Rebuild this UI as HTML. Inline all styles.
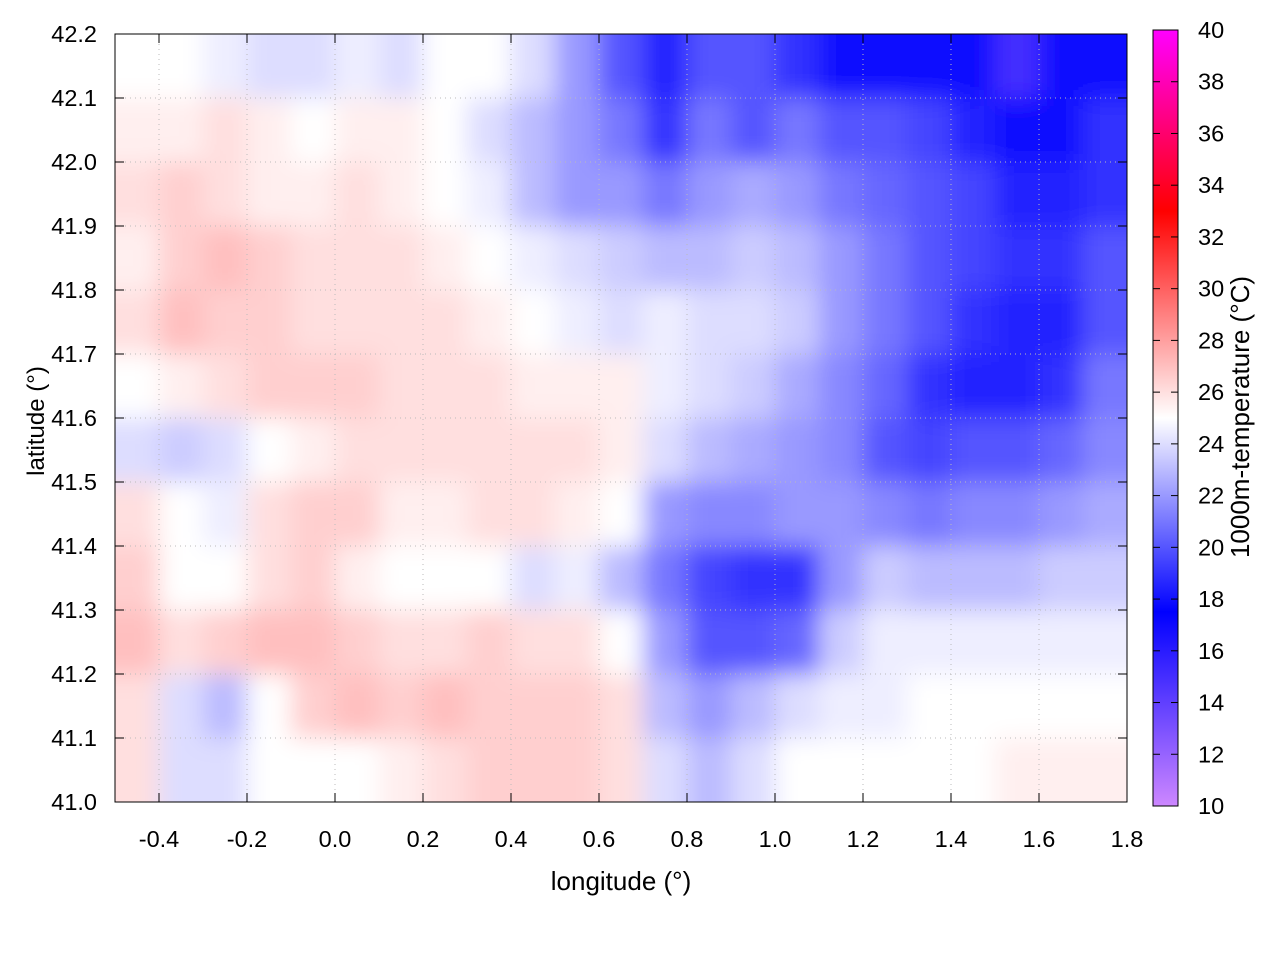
<!DOCTYPE html>
<html><head><meta charset="utf-8"><style>
body{margin:0;background:#fff;}
svg text{font-family:"Liberation Sans",sans-serif;font-size:23.5px;fill:#000;}
svg text.ttl{font-size:26px;}
svg text.ttl2{font-size:24px;}
</style></head><body>
<svg id="chart" width="1280" height="960" viewBox="0 0 1280 960">
<defs>
<clipPath id="pc"><rect x="115" y="34" width="1012" height="768"/></clipPath>
<filter id="bl" x="-5%" y="-5%" width="110%" height="110%"><feGaussianBlur stdDeviation="12"/></filter>
<linearGradient id="cbg" x1="0" y1="1" x2="0" y2="0"></linearGradient>
</defs>
<g id="heat" clip-path="url(#pc)"><g id="cells" filter="url(#bl)"></g></g>
<g id="grid"></g>
<rect x="115" y="34" width="1012" height="768" fill="none" stroke="#000" stroke-width="1"/>
<g id="axes"></g>
<rect x="1153" y="30" width="25" height="776" fill="url(#cbg)" stroke="#000"/>
<g id="cbax"></g>
<text class="ttl" x="621" y="890" text-anchor="middle">longitude (°)</text>
<text class="ttl2" transform="translate(44,421) rotate(-90)" text-anchor="middle">latitude (°)</text>
<text class="ttl" transform="translate(1249,417) rotate(-90)" text-anchor="middle">1000m-temperature (°C)</text>
</svg>
<script>
const lonStart=-0.5, lonStep=0.1, latTop=42.2, latStep=0.1;
const temps=[
[25,25,24.5,24,24,24.5,24,25,25,24,22,20,18.5,20,20,19,18,18,18,17,15,17,18],
[25.5,25.5,26,25.5,25,25.5,25.5,25,24,23,22,21,19,21,20,21,20,20,19.5,18.5,18,18,19],
[26,26.5,26,25.5,25.5,26,25.5,25,24.5,23,22,22,21,22,22.5,22,21,20.5,20,19.5,18.5,18.5,19],
[25.5,26.5,27,26.5,26,26,26,25.5,25,24.5,24,23.5,23,23,23.5,23,22,21,20,19.5,19,19,20],
[26,27,26.5,26.5,26,26,26,26,25.5,25,24.5,24,24.5,24,24,23.5,22,21,20,19,18.5,18.5,20],
[25,25.5,26,26.5,26.5,26.5,26,26,26,25.5,25.5,25.5,24.5,24,23.5,22.5,21.5,20.5,19,18.5,18.5,19,21],
[24,23.5,24,25,25.5,26,26,26,26,26,26,25.5,24,23,22.5,22,21.5,20,19.5,20,20,20.5,21.5],
[26,25,24.5,26,26.5,26.5,25.5,25.5,26,26,25.5,25,22,21.5,21.5,22,22,21.5,21,21.5,21.5,22,22.5],
[26.5,25,25,26,26.5,25.5,25,25,25,24,24.5,23,21,19.5,19,19,22,23.5,23,23,23,23.5,23.5],
[27,26,26.5,27,27,26.5,26,26,26.5,26,26,25,22,20,20,20.5,23.5,24.5,24.5,24.5,24.5,24.5,24.5],
[26,24,23,25,26.5,27,26.5,27,26.5,26.5,26.5,26,23,22,23,24,24.5,24.5,25,25,25,25,25],
[26,24,24,25,25,25,25.5,26,26.5,26.5,26.5,26,24,23,24,25,25,25,25,25,25.5,25.5,25.5]
];
const xTicks=[-0.4,-0.2,0.0,0.2,0.4,0.6,0.8,1.0,1.2,1.4,1.6,1.8];
const yTicks=[41.0,41.1,41.2,41.3,41.4,41.5,41.6,41.7,41.8,41.9,42.0,42.1,42.2];
const cbTicks=[10,12,14,16,18,20,22,24,26,28,30,32,34,36,38,40];
const NS="http://www.w3.org/2000/svg";
const X=v=>115+(v+0.5)/2.3*1012;
const Y=v=>802-(v-41)/1.2*768;
const CY=v=>806-(v-10)/30*776;
const stops=[[10,[205,135,255]],[17.5,[0,0,255]],[25,[255,255,255]],[33,[255,0,0]],[40,[255,0,255]]];
function col(t){
  if(t<=stops[0][0])return 'rgb('+stops[0][1]+')';
  for(let i=0;i<stops.length-1;i++){const[a,ca]=stops[i],[b,cb]=stops[i+1];
    if(t<=b){const f=(t-a)/(b-a);return 'rgb('+ca.map((c,k)=>Math.round(c+(cb[k]-c)*f)).join(',')+')';}}
  return 'rgb('+stops[stops.length-1][1]+')';
}
function mk(tag,at,par){const e=document.createElementNS(NS,tag);for(const k in at)e.setAttribute(k,at[k]);par.appendChild(e);return e;}
const cells=document.getElementById('cells');
temps.forEach((row,r)=>row.forEach((t,c)=>{
  const x0=X(lonStart+c*lonStep),x1=X(lonStart+(c+1)*lonStep);
  const y0=Y(latTop-r*latStep),y1=Y(latTop-(r+1)*latStep);
  let ex=(c==0?-40:0),ey=(r==0?-40:0),ew=(c==row.length-1?40:0),eh=(r==temps.length-1?40:0);
  const e=mk('rect',{x:x0+ex,y:y0+ey,width:x1-x0-ex+ew+0.5,height:y1-y0-ey+eh+0.5,fill:col(t)},cells);
  
  
}));
const grid=document.getElementById('grid'),axes=document.getElementById('axes');
xTicks.forEach(v=>{const x=X(v);
  mk('line',{x1:x,x2:x,y1:34,y2:802,stroke:'#bbb','stroke-dasharray':'1,4','stroke-width':1},grid);
  mk('line',{x1:x,x2:x,y1:802,y2:793,stroke:'#000'},axes);mk('line',{x1:x,x2:x,y1:34,y2:43,stroke:'#000'},axes);
  const t=mk('text',{x:x,y:847,'text-anchor':'middle'},axes);t.textContent=v.toFixed(1);
  
  
});
yTicks.forEach(v=>{const y=Y(v);
  mk('line',{x1:115,x2:1127,y1:y,y2:y,stroke:'#bbb','stroke-dasharray':'1,4','stroke-width':1},grid);
  mk('line',{x1:115,x2:124,y1:y,y2:y,stroke:'#000'},axes);mk('line',{x1:1118,x2:1127,y1:y,y2:y,stroke:'#000'},axes);
  const t=mk('text',{x:97,y:y+8,'text-anchor':'end'},axes);t.textContent=v.toFixed(1);
  
  
});
const g=document.getElementById('cbg');
for(let v=10;v<=40;v+=0.5){mk('stop',{offset:((v-10)/30*100)+'%','stop-color':col(v)},g);}
const cb=document.getElementById('cbax');
cbTicks.forEach(v=>{const y=CY(v);
  mk('line',{x1:1153,x2:1160,y1:y,y2:y,stroke:'#000'},cb);mk('line',{x1:1171,x2:1178,y1:y,y2:y,stroke:'#000'},cb);
  const t=mk('text',{x:1198,y:y+8},cb);t.textContent=v;
  
  
});
</script>
</body></html>
